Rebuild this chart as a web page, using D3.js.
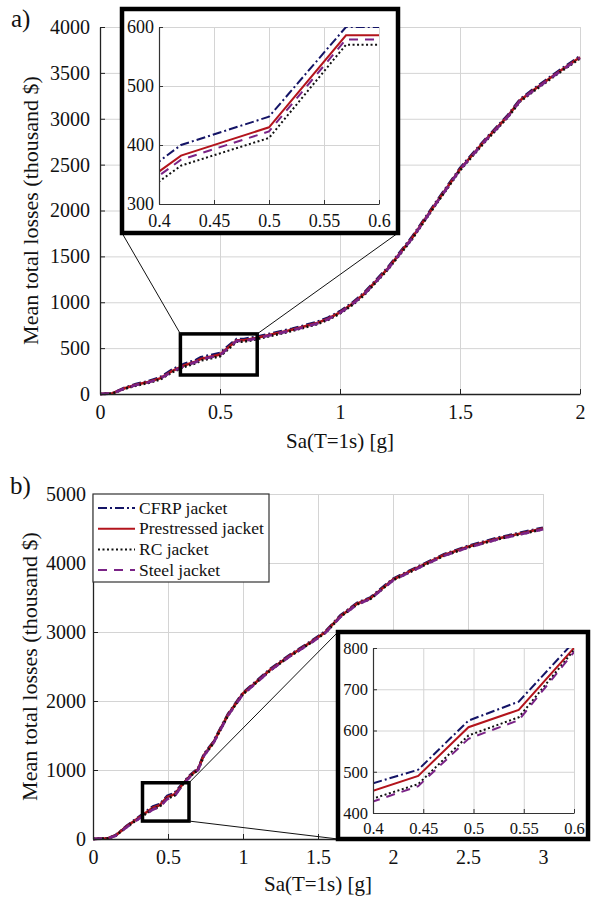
<!DOCTYPE html>
<html>
<head>
<meta charset="utf-8">
<script src="https://cdn.jsdelivr.net/npm/d3@7"></script>
<style>
  body { margin: 0; background: #fff; }
  svg { display: block; font-family: "Liberation Serif", "Times New Roman", serif; }
  .grid line { stroke: #d4d4d4; stroke-width: 1; }
  .grid path { display: none; }
</style>
</head>
<body>
<svg width="592" height="898"></svg>
<script>
// ---- data: panel a) ----
const saA = [0, 0.05, 0.1, 0.15, 0.2, 0.25, 0.3, 0.35, 0.4, 0.42, 0.5, 0.57, 0.6, 0.65, 0.7, 0.8, 0.9, 0.95, 1.0, 1.05, 1.1, 1.2, 1.3, 1.4, 1.5, 1.6, 1.7, 1.75, 1.8, 1.9, 2.0];
const cfrpA = [0, 6, 65, 108, 140, 182, 265, 328, 372, 400, 448, 600, 600, 622, 652, 712, 782, 832, 902, 992, 1102, 1382, 1712, 2092, 2462, 2762, 3042, 3212, 3312, 3502, 3682];
const prestA = [0, 5, 60, 100, 130, 170, 250, 310, 355, 382, 430, 586, 586, 610, 640, 700, 770, 820, 890, 980, 1090, 1370, 1700, 2080, 2450, 2750, 3030, 3200, 3300, 3490, 3670];
const rcA = [0, 4, 55, 92, 120, 158, 236, 295, 338, 365, 412, 570, 570, 596, 626, 688, 758, 808, 878, 968, 1078, 1358, 1688, 2068, 2438, 2738, 3018, 3188, 3288, 3478, 3658];
const steelA = [0, 5, 58, 97, 126, 165, 243, 303, 348, 375, 423, 579, 579, 604, 634, 694, 764, 814, 884, 974, 1084, 1364, 1694, 2074, 2444, 2744, 3024, 3194, 3294, 3484, 3664];

// ---- data: panel b) ----
const saB = [0, 0.1, 0.15, 0.225, 0.3, 0.4, 0.445, 0.495, 0.545, 0.6, 0.65, 0.7, 0.74, 0.8, 0.9, 1.0, 1.07, 1.18, 1.3, 1.45, 1.55, 1.65, 1.76, 1.85, 2.0, 2.18, 2.34, 2.5, 2.7, 3.0];
const cfrpB = [0, 11, 54, 192, 312, 472, 505, 624, 670, 815, 932, 1022, 1232, 1402, 1812, 2122, 2252, 2462, 2652, 2862, 3012, 3242, 3422, 3502, 3772, 3962, 4127, 4247, 4367, 4512];
const prestB = [0, 10, 50, 183, 300, 454, 490, 608, 650, 800, 920, 1010, 1220, 1390, 1800, 2110, 2240, 2450, 2640, 2850, 3000, 3230, 3410, 3490, 3760, 3950, 4115, 4235, 4355, 4500];
const rcB = [0, 9, 46, 175, 288, 435, 470, 588, 632, 795, 912, 1000, 1210, 1380, 1790, 2100, 2230, 2440, 2630, 2840, 2990, 3220, 3400, 3480, 3750, 3940, 4105, 4225, 4345, 4490];
const steelB = [0, 9, 45, 172, 285, 428, 465, 580, 625, 790, 908, 998, 1208, 1378, 1788, 2098, 2228, 2438, 2628, 2838, 2988, 3218, 3398, 3478, 3748, 3938, 4103, 4223, 4343, 4488];

const seriesNames = ['CFRP jacket', 'Prestressed jacket', 'RC jacket', 'Steel jacket'];
const xTicksA = [0, 0.5, 1, 1.5, 2];
const yTicksA = [0, 500, 1000, 1500, 2000, 2500, 3000, 3500, 4000];
const xTicksB = [0, 0.5, 1, 1.5, 2, 2.5, 3];
const yTicksB = [0, 1000, 2000, 3000, 4000, 5000];
const insetXTicks = [0.4, 0.45, 0.5, 0.55, 0.6];
const insetYTicksA = [300, 400, 500, 600];
const insetYTicksB = [400, 500, 600, 700, 800];

// line styles, same order as seriesNames
const styles = [
  { color: '#141466', dash: '9,3,2,3' },
  { color: '#b3141c', dash: null },
  { color: '#111111', dash: '2,2.5' },
  { color: '#7a2386', dash: '9,7' }
];

const svg = d3.select('svg');

const makeSeries = (xs, list) => list.map(ys => xs.map((x, i) => [x, ys[i]]));

const drawLines = (g, series, x, y, width) => {
  const line = d3.line().x(d => x(d[0])).y(d => y(d[1]));
  series.forEach((s, i) => {
    g.append('path')
      .attr('d', line(s))
      .attr('fill', 'none')
      .attr('stroke', styles[i].color)
      .attr('stroke-width', width)
      .attr('stroke-dasharray', styles[i].dash);
  });
};

// main axes with MATLAB style inward ticks and light grid
const drawMain = (p) => {
  const x = d3.scaleLinear().domain(p.xDomain).range(p.xRange);
  const y = d3.scaleLinear().domain(p.yDomain).range(p.yRange);
  const g = svg.append('g');

  g.append('g').attr('class', 'grid')
    .attr('transform', `translate(0,${p.yRange[0]})`)
    .call(d3.axisBottom(x).tickValues(p.xTicks).tickSize(p.yRange[1] - p.yRange[0]).tickFormat(''));
  g.append('g').attr('class', 'grid')
    .attr('transform', `translate(${p.xRange[0]},0)`)
    .call(d3.axisLeft(y).tickValues(p.yTicks).tickSize(p.xRange[0] - p.xRange[1]).tickFormat(''));

  drawLines(g, p.series, x, y, 2.6);

  const xAxis = g.append('g')
    .attr('transform', `translate(0,${p.yRange[0]})`)
    .call(d3.axisBottom(x).tickValues(p.xTicks).tickSize(-5).tickSizeOuter(0).tickPadding(11).tickFormat(d => String(d)));
  const yAxis = g.append('g')
    .attr('transform', `translate(${p.xRange[0]},0)`)
    .call(d3.axisLeft(y).tickValues(p.yTicks).tickSize(-5).tickSizeOuter(0).tickPadding(p.yPad).tickFormat(d => String(d)));
  [xAxis, yAxis].forEach(a => {
    a.selectAll('text').attr('font-size', 20).attr('fill', '#111').attr('font-family', 'Liberation Serif');
    a.select('.domain').attr('stroke', '#222').attr('stroke-width', 1.3);
    a.selectAll('.tick line').attr('stroke', '#222');
  });

  g.append('text')
    .attr('transform', `translate(${p.yTitleX},${(p.yRange[0] + p.yRange[1]) / 2}) rotate(-90)`)
    .attr('text-anchor', 'middle').attr('dy', '0.35em')
    .attr('font-size', 22).attr('fill', '#111')
    .text('Mean total losses (thousand $)');
  g.append('text')
    .attr('x', (p.xRange[0] + p.xRange[1]) / 2).attr('y', p.xTitleY)
    .attr('text-anchor', 'middle')
    .attr('font-size', 21).attr('fill', '#111')
    .text('Sa(T=1s) [g]');
  g.append('text')
    .attr('x', p.tag[0]).attr('y', p.tag[1])
    .attr('font-size', 25).attr('fill', '#111')
    .text(p.label);

  // zoom marker rectangle
  const z = p.zoom;
  g.append('rect')
    .attr('x', x(z.x0)).attr('y', y(z.y1))
    .attr('width', x(z.x1) - x(z.x0)).attr('height', y(z.y0) - y(z.y1))
    .attr('fill', 'none').attr('stroke', '#000').attr('stroke-width', 3.5);

  // connector lines from marker to inset
  p.links.forEach(l => {
    g.append('line')
      .attr('x1', x(l.from[0])).attr('y1', y(l.from[1]))
      .attr('x2', l.to[0]).attr('y2', l.to[1])
      .attr('stroke', '#111').attr('stroke-width', 1);
  });

  return g;
};

const drawInset = (p) => {
  const b = p.box;
  const g = svg.append('g');
  g.append('rect')
    .attr('x', b.x).attr('y', b.y).attr('width', b.w).attr('height', b.h)
    .attr('fill', '#fff').attr('stroke', '#000').attr('stroke-width', 4.5);

  const x = d3.scaleLinear().domain([0.4, 0.6]).range(p.xRange);
  const y = d3.scaleLinear().domain(p.yDomain).range(p.yRange);

  g.append('g').attr('class', 'grid')
    .attr('transform', `translate(0,${p.yRange[0]})`)
    .call(d3.axisBottom(x).tickValues(insetXTicks).tickSize(p.yRange[1] - p.yRange[0]).tickFormat(''));
  g.append('g').attr('class', 'grid')
    .attr('transform', `translate(${p.xRange[0]},0)`)
    .call(d3.axisLeft(y).tickValues(p.yTicks).tickSize(p.xRange[0] - p.xRange[1]).tickFormat(''));

  const clipId = 'clip' + p.id;
  g.append('clipPath').attr('id', clipId).append('rect')
    .attr('x', p.xRange[0]).attr('y', p.yRange[1])
    .attr('width', p.xRange[1] - p.xRange[0]).attr('height', p.yRange[0] - p.yRange[1]);
  const lg = g.append('g').attr('clip-path', `url(#${clipId})`);
  drawLines(lg, p.series, x, y, 2);

  const xAxis = g.append('g')
    .attr('transform', `translate(0,${p.yRange[0]})`)
    .call(d3.axisBottom(x).tickValues(insetXTicks).tickSize(-4).tickSizeOuter(0).tickPadding(p.xPad).tickFormat(d => String(d)));
  const yAxis = g.append('g')
    .attr('transform', `translate(${p.xRange[0]},0)`)
    .call(d3.axisLeft(y).tickValues(p.yTicks).tickSize(-4).tickSizeOuter(0).tickPadding(5).tickFormat(d => String(d)));
  [xAxis, yAxis].forEach(a => {
    a.selectAll('text').attr('font-size', p.font).attr('fill', '#111').attr('font-family', 'Liberation Serif');
    a.select('.domain').attr('stroke', '#333').attr('stroke-width', 1.2);
    a.selectAll('.tick line').attr('stroke', '#333');
  });
};

// ---- panel a) ----
drawMain({
  xDomain: [0, 2], yDomain: [0, 4000], xRange: [100, 580], yRange: [394, 27],
  xTicks: xTicksA, yTicks: yTicksA, yPad: 10, yTitleX: 30, xTitleY: 448,
  tag: [11, 27], label: 'a)',
  series: makeSeries(saA, [cfrpA, prestA, rcA, steelA]),
  zoom: { x0: 0.335, x1: 0.655, y0: 207, y1: 655 },
  links: [{ from: [0.335, 655], to: [122, 233] }, { from: [0.655, 655], to: [398, 233] }]
});
drawInset({
  id: 'a', box: { x: 122, y: 9, w: 276, h: 224 },
  xRange: [159, 379], yDomain: [300, 600], yRange: [204, 27], yTicks: insetYTicksA,
  xPad: 10, font: 18,
  series: makeSeries(saA, [cfrpA, prestA, rcA, steelA])
});

// ---- panel b) ----
drawMain({
  xDomain: [0, 3], yDomain: [0, 5000], xRange: [93, 543], yRange: [839, 494],
  xTicks: xTicksB, yTicks: yTicksB, yPad: 7, yTitleX: 29, xTitleY: 891,
  tag: [10, 494], label: 'b)',
  series: makeSeries(saB, [cfrpB, prestB, rcB, steelB]),
  zoom: { x0: 0.33, x1: 0.64, y0: 260, y1: 815 },
  links: [{ from: [0.64, 815], to: [338, 632] }, { from: [0.64, 260], to: [338, 839] }]
});
drawInset({
  id: 'b', box: { x: 338, y: 632, w: 250, h: 207 },
  xRange: [373, 574], yDomain: [400, 800], yRange: [813, 648], yTicks: insetYTicksB,
  xPad: 9, font: 16.5,
  series: makeSeries(saB, [cfrpB, prestB, rcB, steelB])
});

// ---- legend (panel b) ----
const legend = svg.append('g').attr('transform', 'translate(93,494)');
legend.append('rect')
  .attr('width', 176).attr('height', 88)
  .attr('fill', '#fff').attr('stroke', '#333').attr('stroke-width', 1.2);
const items = legend.selectAll('g.item').data(seriesNames).enter().append('g')
  .attr('class', 'item')
  .attr('transform', (d, i) => `translate(0,${14 + i * 20.7})`);
items.append('line')
  .attr('x1', 5).attr('x2', 42)
  .attr('stroke', (d, i) => styles[i].color)
  .attr('stroke-width', 2)
  .attr('stroke-dasharray', (d, i) => styles[i].dash);
items.append('text')
  .attr('x', 46).attr('dy', '0.33em')
  .attr('font-size', 17.5).attr('fill', '#111')
  .text(d => d);
</script>
</body>
</html>
